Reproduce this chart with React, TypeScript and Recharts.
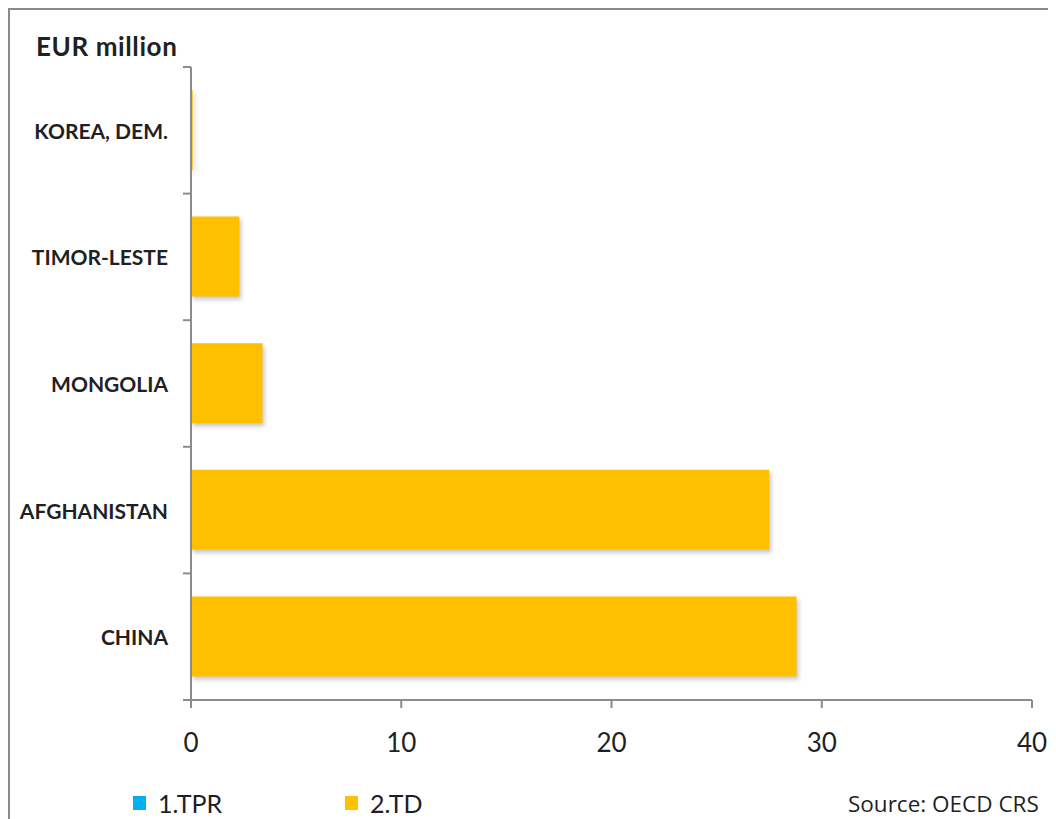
import React from "react";
import { Bar, BarChart, Rectangle, XAxis, YAxis } from "recharts";

const countries = ["KOREA, DEM.", "TIMOR-LESTE", "MONGOLIA", "AFGHANISTAN", "CHINA"];
const tprValues = [0, 0, 0, 0, 0];
const tdValues = [0.08, 2.3, 3.4, 27.5, 28.8];
const xTicks = [0, 10, 20, 30, 40];

const seriesNames = ["1.TPR", "2.TD"];
const seriesColors = ["#00B0F0", "#FFC000"];

const rows = countries.map((name, i) => ({ name, tpr: tprValues[i], td: tdValues[i] }));

const WIDTH = 1046;
const HEIGHT = 809;
const X_AXIS_HEIGHT = 30;
const MARGIN = { top: 57, right: 24, bottom: 89, left: 0 };
const BAND = (HEIGHT - MARGIN.top - MARGIN.bottom - X_AXIS_HEIGHT) / countries.length;
const AXIS_GREY = "#8c8c8c";
const TEXT = "#1f1f24";

function CountryTick(props: any) {
  const { x, y, payload, index } = props;
  const last = index === countries.length - 1;
  return (
    <g>
      <text
        x={x - 8}
        y={y}
        textAnchor="end"
        dominantBaseline="central"
        fontFamily="Lato, sans-serif"
        fontWeight={700}
        fontSize={21}
        fill={TEXT}
      >
        {payload.value}
      </text>
      <line x1={x + 7} x2={x + 15} y1={y - BAND / 2} y2={y - BAND / 2} stroke={AXIS_GREY} strokeWidth={2} />
      {last && (
        <line x1={x + 7} x2={x + 15} y1={y + BAND / 2} y2={y + BAND / 2} stroke={AXIS_GREY} strokeWidth={2} />
      )}
    </g>
  );
}

const shadowBar = (props: any) => (
  <Rectangle {...props} style={{ filter: "drop-shadow(2px 3px 2px rgba(0,0,0,0.22))" }} />
);

export default function App() {
  return (
    <div
      style={{
        position: "relative",
        width: 1046,
        height: 809,
        borderLeft: "2px solid #8a8a8a",
        borderTop: "2px solid #8a8a8a",
        background: "#fff",
        overflow: "hidden",
      }}
    >
      <div
        style={{
          position: "absolute",
          left: 26,
          top: 23,
          fontFamily: "Lato, sans-serif",
          fontWeight: 700,
          fontSize: 26,
          letterSpacing: 0.6,
          lineHeight: 1,
          color: TEXT,
          whiteSpace: "nowrap",
        }}
      >
        EUR million
      </div>
      <BarChart width={WIDTH} height={HEIGHT} data={rows} layout="vertical" margin={MARGIN}>
        <XAxis
          type="number"
          domain={[0, 40]}
          ticks={xTicks}
          interval={0}
          height={X_AXIS_HEIGHT}
          tickSize={8}
          tickMargin={26}
          axisLine={{ stroke: AXIS_GREY, strokeWidth: 2 }}
          tickLine={{ stroke: AXIS_GREY, strokeWidth: 2 }}
          tick={{ fontFamily: "Lato, sans-serif", fontSize: 26, fill: TEXT }}
        />
        <YAxis
          type="category"
          dataKey="name"
          width={181}
          tickSize={8}
          tickMargin={7}
          interval={0}
          tickLine={false}
          axisLine={{ stroke: AXIS_GREY, strokeWidth: 2 }}
          tick={<CountryTick />}
        />
        <Bar dataKey="tpr" name={seriesNames[0]} stackId="a" fill={seriesColors[0]} barSize={80} isAnimationActive={false} />
        <Bar
          dataKey="td"
          name={seriesNames[1]}
          stackId="a"
          fill={seriesColors[1]}
          barSize={80}
          shape={shadowBar}
          isAnimationActive={false}
        />
      </BarChart>
      {seriesNames.map((name, i) => (
        <div
          key={name}
          style={{
            position: "absolute",
            left: 123 + i * 212,
            top: 778,
            display: "flex",
            alignItems: "center",
            fontFamily: "Lato, sans-serif",
            fontSize: 25,
            lineHeight: 1.2,
            color: TEXT,
            whiteSpace: "nowrap",
          }}
        >
          <span style={{ display: "inline-block", width: 13, height: 14, background: seriesColors[i], marginRight: 12 }} />
          {name}
        </div>
      ))}
      <div
        style={{
          position: "absolute",
          left: 838,
          top: 780,
          fontFamily: "'Open Sans', sans-serif",
          fontSize: 22.5,
          lineHeight: 1.2,
          color: TEXT,
          whiteSpace: "nowrap",
        }}
      >
        Source: OECD CRS
      </div>
    </div>
  );
}
